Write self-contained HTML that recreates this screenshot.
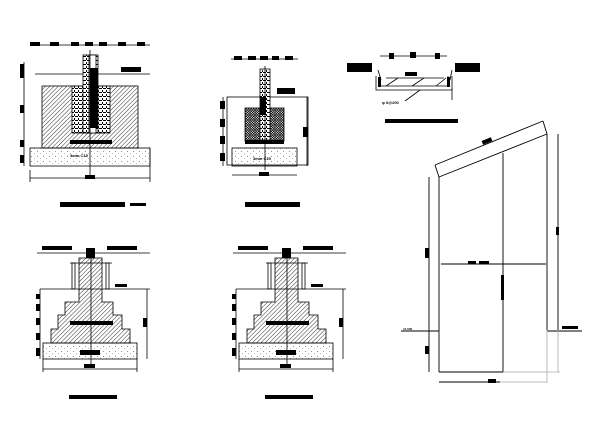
<!DOCTYPE html>
<html><head><meta charset="utf-8"><style>
html,body{margin:0;padding:0;background:#fff;width:603px;height:441px;overflow:hidden}
svg{display:block}
text{font-family:"Liberation Sans",sans-serif;font-size:4px;font-weight:bold;fill:#000}
</style></head><body>
<svg width="603" height="441" viewBox="0 0 603 441" xmlns="http://www.w3.org/2000/svg">
<defs>
<pattern id="hat" width="3" height="3" patternUnits="userSpaceOnUse" patternTransform="rotate(45)"><line x1="0" y1="0" x2="0" y2="3" stroke="#000" stroke-width="0.8"/></pattern>
<pattern id="dot" width="6" height="5" patternUnits="userSpaceOnUse"><rect x="1" y="1" width="0.8" height="0.8" fill="#555"/><rect x="4" y="3" width="0.7" height="0.7" fill="#777"/></pattern>
<pattern id="cross" width="2.5" height="2.5" patternUnits="userSpaceOnUse"><path d="M0 0L2.5 2.5M2.5 0L0 2.5" stroke="#000" stroke-width="0.7"/></pattern>
<pattern id="grav" width="4" height="4" patternUnits="userSpaceOnUse"><rect width="4" height="4" fill="#fff"/><rect x="0" y="0" width="2" height="1" fill="#000"/><rect x="2" y="2" width="1" height="2" fill="#000"/><rect x="3" y="0" width="1" height="1" fill="#000"/></pattern>
</defs>
<g stroke="#000" stroke-width="0.8" fill="none">
<!-- Drawing 1 -->
<line x1="30" y1="45" x2="150" y2="45"/>
<line x1="35" y1="74" x2="150" y2="74"/>
<rect x="42" y="86" width="96" height="62" fill="url(#hat)"/>
<rect x="72" y="86" width="38" height="47" fill="url(#grav)"/>
<rect x="83" y="55" width="15" height="78" fill="url(#grav)"/>
<rect x="89" y="55" width="7" height="78" fill="#fff"/>
<rect x="30" y="148" width="120" height="18" fill="url(#dot)"/>
<line x1="90" y1="50" x2="90" y2="175"/>
<line x1="30" y1="178" x2="150" y2="178"/>
<line x1="30" y1="170" x2="30" y2="182"/><line x1="150" y1="148" x2="150" y2="182"/>
<line x1="24" y1="62" x2="24" y2="166"/>
</g>
<g fill="#000">
<rect x="30" y="42" width="10" height="4"/><rect x="50" y="42" width="9" height="4"/><rect x="71" y="42" width="8" height="4"/><rect x="85" y="42" width="8" height="4"/><rect x="99" y="42" width="8" height="4"/><rect x="118" y="42" width="8" height="4"/><rect x="137" y="42" width="8" height="4"/>
<rect x="90" y="68" width="8" height="60"/>
<rect x="121" y="67" width="20" height="5"/>
<rect x="70" y="140" width="42" height="4"/>
<rect x="20" y="64" width="4" height="14"/><rect x="20" y="105" width="4" height="8"/><rect x="20" y="140" width="4" height="7"/><rect x="20" y="155" width="4" height="8"/>
<rect x="85" y="175" width="10" height="4"/>
<rect x="60" y="202" width="65" height="5"/><rect x="130" y="203" width="16" height="3"/>
</g>
<text x="70" y="157">3mm C15</text>

<!-- Drawing 2 -->
<g stroke="#000" stroke-width="0.8" fill="none">
<line x1="231" y1="59" x2="298" y2="59"/>
<rect x="227" y="97" width="81" height="68"/>
<rect x="245" y="108" width="39" height="33" fill="url(#cross)"/>
<rect x="260" y="69" width="10" height="71" fill="url(#grav)"/>
<rect x="232" y="148" width="65" height="18" fill="url(#dot)"/>
<line x1="265" y1="66" x2="265" y2="170"/>
<line x1="232" y1="175" x2="297" y2="175"/>
<line x1="223" y1="97" x2="223" y2="166"/>
<line x1="307" y1="97" x2="307" y2="166"/>
</g>
<g fill="#000">
<rect x="234" y="56" width="8" height="4"/><rect x="248" y="56" width="8" height="4"/><rect x="260" y="56" width="8" height="4"/><rect x="272" y="56" width="7" height="4"/><rect x="285" y="56" width="8" height="4"/>
<rect x="277" y="88" width="18" height="6"/>
<rect x="245" y="140" width="39" height="4"/>
<rect x="260" y="97" width="6" height="18"/>
<rect x="220" y="101" width="5" height="8"/><rect x="220" y="119" width="5" height="8"/><rect x="220" y="136" width="5" height="8"/><rect x="220" y="153" width="5" height="8"/>
<rect x="303" y="127" width="5" height="10"/>
<rect x="259" y="172" width="10" height="4"/>
<rect x="245" y="202" width="55" height="5"/>
</g>
<text x="253" y="160">3mm C15</text>

<!-- Drawing 3 -->
<g stroke="#000" stroke-width="0.8" fill="none">
<line x1="380" y1="56" x2="447" y2="56"/>
<path d="M376 76V90H452V76"/>
<path d="M380 76V86H448V76"/>
<line x1="386" y1="86" x2="398" y2="78"/><line x1="412" y1="86" x2="424" y2="78"/><line x1="436" y1="86" x2="446" y2="78"/>
<line x1="386" y1="78" x2="444" y2="78"/>
<line x1="378" y1="70" x2="381" y2="80"/><line x1="452" y1="70" x2="450" y2="80"/>
<line x1="420" y1="90" x2="405" y2="101"/>
<line x1="452" y1="88" x2="452" y2="100"/>
</g>
<g fill="#000">
<rect x="389" y="53" width="5" height="6"/><rect x="410" y="52" width="6" height="6"/><rect x="435" y="53" width="5" height="6"/>
<rect x="347" y="63" width="25" height="9"/><rect x="455" y="63" width="25" height="9"/>
<rect x="378" y="77" width="3" height="10"/><rect x="447" y="77" width="3" height="10"/>
<rect x="405" y="72" width="12" height="4"/>
<rect x="385" y="119" width="73" height="4"/>
</g>
<text x="382" y="104">φ 6@200</text>

<!-- Drawing 4 & 5 -->
<g id="step">
<g stroke="#000" stroke-width="0.8" fill="none">
<line x1="37" y1="253" x2="150" y2="253"/>
<rect x="72" y="263" width="3" height="26"/><rect x="106" y="263" width="3" height="26"/>
<line x1="70" y1="263" x2="112" y2="263"/>
<line x1="40" y1="289" x2="150" y2="289"/>
<path d="M79 258V302H65V315H58V329H51V343H130V329H122V315H113V302H102V258Z" fill="url(#hat)"/>
<rect x="43" y="343" width="94" height="16" fill="url(#dot)"/>
<line x1="91" y1="255" x2="91" y2="365"/>
<line x1="147" y1="289" x2="147" y2="359"/>
<line x1="43" y1="369" x2="137" y2="369"/>
<line x1="43" y1="359" x2="43" y2="372"/><line x1="137" y1="359" x2="137" y2="372"/>
<line x1="40" y1="289" x2="40" y2="359"/>
</g>
<g fill="#000">
<rect x="42" y="246" width="30" height="4"/><rect x="107" y="246" width="30" height="4"/>
<rect x="86" y="248" width="9" height="10"/>
<rect x="70" y="321" width="43" height="4"/>
<rect x="80" y="350" width="20" height="5"/>
<rect x="143" y="318" width="4" height="9"/>
<rect x="84" y="364" width="11" height="4"/>
<rect x="36" y="294" width="4" height="5"/><rect x="36" y="304" width="4" height="7"/><rect x="36" y="318" width="4" height="7"/><rect x="36" y="333" width="4" height="7"/><rect x="36" y="348" width="4" height="8"/>
<rect x="69" y="395" width="48" height="4"/>
<rect x="115" y="284" width="12" height="3"/>
</g>
</g>
<use href="#step" x="196" y="0"/>

<!-- Drawing 6 -->
<g stroke="#000" stroke-width="0.9" fill="none">
<line x1="439" y1="177" x2="439" y2="372"/>
<line x1="547" y1="134" x2="547" y2="330"/>
<line x1="439" y1="177" x2="547" y2="134"/>
<line x1="435" y1="165" x2="543" y2="121"/>
<line x1="435" y1="165" x2="439" y2="177"/><line x1="543" y1="121" x2="547" y2="134"/>
<line x1="503" y1="153" x2="503" y2="372"/>
<line x1="441" y1="264" x2="546" y2="264"/>
<line x1="429" y1="177" x2="429" y2="372"/>
<line x1="401" y1="331" x2="439" y2="331"/>
<line x1="547" y1="331" x2="582" y2="331"/>
<line x1="439" y1="372" x2="503" y2="372"/>
<line x1="439" y1="382" x2="500" y2="382"/>
<line x1="558" y1="134" x2="558" y2="330"/>
</g>
<g stroke="#aaa" stroke-width="0.8" fill="none">
<line x1="547" y1="330" x2="547" y2="383"/>
<line x1="503" y1="372" x2="560" y2="372"/>
<line x1="500" y1="382" x2="547" y2="382"/>
<line x1="558" y1="330" x2="558" y2="372"/>
</g>
<g fill="#000">
<rect x="482" y="139" width="10" height="4" transform="rotate(-22 487 141)"/>
<rect x="468" y="261" width="8" height="3"/><rect x="479" y="261" width="10" height="3"/>
<rect x="425" y="248" width="4" height="10"/><rect x="425" y="346" width="4" height="8"/>
<rect x="556" y="227" width="3" height="8"/>
<rect x="501" y="275" width="3" height="25"/>
<rect x="562" y="326" width="16" height="3"/>
<rect x="488" y="379" width="8" height="4"/>
</g>
<text x="403" y="330" style="font-size:3px">±0.000</text>
</svg>
</body></html>
